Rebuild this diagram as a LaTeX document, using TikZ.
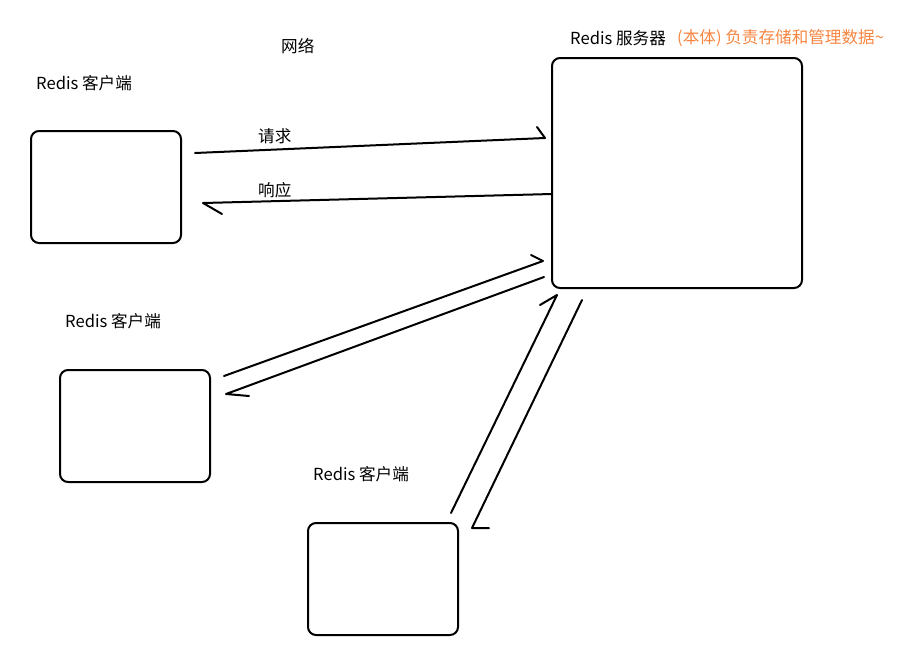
\documentclass[tikz,border=0pt]{standalone}
\usepackage{fontspec}
\setmainfont{Noto Sans CJK SC}
\definecolor{inkorange}{RGB}{247,134,66}
\begin{document}
\begin{tikzpicture}[x=1pt,y=-1pt,
  box/.style={draw=black,line width=2pt,rounded corners=8pt,inner sep=0pt},
  ink/.style={draw=black,line width=2pt,line cap=round,line join=round},
  lbl/.style={anchor=west,inner sep=0pt,font=\fontsize{16.6}{19}\selectfont},
  olbl/.style={lbl,text=inkorange}]
\useasboundingbox (0,0) rectangle (912,656);
% boxes
\node[box,minimum width=250pt,minimum height=230pt] (srv) at (677,173) {};
\node[box,minimum width=150pt,minimum height=112pt] (c1) at (106,187) {};
\node[box,minimum width=150pt,minimum height=112pt] (c2) at (135,426) {};
\node[box,minimum width=150pt,minimum height=112pt] (c3) at (383,579) {};
% labels
\node[lbl] (l1) at (36,83) {Redis 客户端};
\node[lbl] (l2) at (65,321) {Redis 客户端};
\node[lbl] (l3) at (313,474) {Redis 客户端};
\node[lbl] (net) at (281,46) {网络};
\node[lbl] (ls) at (570,38) {Redis 服务器};
\node[olbl] (lo) at (677,38) {(本体) 负责存储和管理数据\char"007E};
\node[lbl] (req) at (258,136) {请求};
\node[lbl] (resp) at (258,190) {响应};
% arrow 1: request
\coordinate (a1s) at (195,153);
\coordinate (a1t) at (545,138);
\coordinate (a1b) at (537,127);
\draw[ink] (a1s) -- (a1t) -- (a1b);
% arrow 2: response
\coordinate (a2s) at (552,194);
\coordinate (a2t) at (203,203);
\coordinate (a2b) at (222,214);
\draw[ink] (a2s) -- (a2t) -- (a2b);
% arrow 3: client2 request
\coordinate (a3s) at (224,376);
\coordinate (a3t) at (543,261);
\coordinate (a3b) at (531,255);
\draw[ink] (a3s) -- (a3t) -- (a3b);
% arrow 4: client2 response
\coordinate (a4s) at (544,277);
\coordinate (a4t) at (226,394);
\coordinate (a4b) at (249,396);
\draw[ink] (a4s) -- (a4t) -- (a4b);
% arrow 5: client3 request
\coordinate (a5s) at (451,513);
\coordinate (a5t) at (557,295);
\coordinate (a5b) at (540,305);
\draw[ink] (a5s) -- (a5t) -- (a5b);
% arrow 6: client3 response
\coordinate (a6s) at (582,300);
\coordinate (a6t) at (472,528);
\coordinate (a6b) at (489,528);
\draw[ink] (a6s) -- (a6t) -- (a6b);
\end{tikzpicture}
\end{document}
